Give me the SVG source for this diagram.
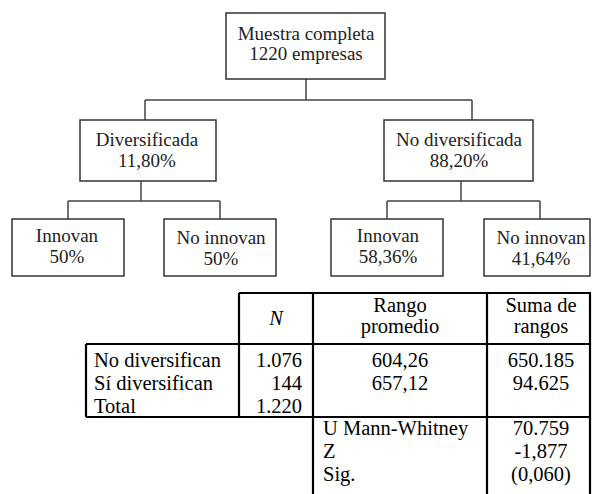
<svg xmlns="http://www.w3.org/2000/svg" width="592" height="494" viewBox="0 0 592 494">
<style>
.box{fill:#fff;stroke:#333;stroke-width:1.5}
.conn{fill:none;stroke:#444;stroke-width:1.5}
.t{font-size:19px;fill:#222;text-anchor:middle}
.tb{font-size:20.5px;fill:#000}
.tl{stroke:#000;stroke-width:2.2;fill:none}
.c{text-anchor:middle}
.r{text-anchor:end}
</style>
<rect width="592" height="494" fill="#fff"/>
<g id="connectors">
<path class="conn" d="M306 79V100M145 100H472M145 100V120M472 100V120"/>
<path class="conn" d="M141 181V201M68 201H220M68 201V219M220 201V219"/>
<path class="conn" d="M461 181V201M387 201H540M387 201V219M540 201V219"/>
</g>
<g font-family="'Liberation Serif', Tinos, 'DejaVu Serif', serif">
<g id="root">
<rect class="box" x="226" y="13" width="159" height="66"/>
<text class="t" x="306" y="40">Muestra completa</text>
<text class="t" x="306" y="60">1220 empresas</text>
</g>
<g id="div">
<rect class="box" x="80" y="120" width="136" height="61"/>
<text class="t" x="147" y="146">Diversificada</text>
<text class="t" x="147" y="167">11,80%</text>
</g>
<g id="nodiv">
<rect class="box" x="384" y="120" width="149" height="61"/>
<text class="t" x="459" y="146">No diversificada</text>
<text class="t" x="459" y="167">88,20%</text>
</g>
<g id="div-innovan">
<rect class="box" x="12" y="219" width="112" height="57"/>
<text class="t" x="67" y="242">Innovan</text>
<text class="t" x="67" y="263">50%</text>
</g>
<g id="div-noinnovan">
<rect class="box" x="164" y="219" width="112" height="57"/>
<text class="t" x="221" y="244">No innovan</text>
<text class="t" x="221" y="265">50%</text>
</g>
<g id="nodiv-innovan">
<rect class="box" x="331" y="219" width="112" height="57"/>
<text class="t" x="388" y="242">Innovan</text>
<text class="t" x="388" y="263">58,36%</text>
</g>
<g id="nodiv-noinnovan">
<rect class="box" x="484" y="219" width="106" height="57"/>
<text class="t" x="541" y="244">No innovan</text>
<text class="t" x="541" y="265">41,64%</text>
</g>
<g id="table">
<path class="tl" d="M239 293H591M86 344H591M86 417H591M239 293V417M313 293V494M487 293V494M590 293V494M86 344V417"/>
<text class="tb c" x="276" y="325" font-style="italic">N</text>
<text class="tb c" x="400" y="312">Rango</text>
<text class="tb c" x="400" y="333">promedio</text>
<text class="tb c" x="541" y="312">Suma de</text>
<text class="tb c" x="541" y="333">rangos</text>
<text class="tb" x="94" y="367">No diversifican</text>
<text class="tb" x="94" y="390">Sí diversifican</text>
<text class="tb" x="94" y="413">Total</text>
<text class="tb r" x="302" y="367">1.076</text>
<text class="tb r" x="302" y="390">144</text>
<text class="tb r" x="302" y="413">1.220</text>
<text class="tb c" x="400" y="367">604,26</text>
<text class="tb c" x="400" y="390">657,12</text>
<text class="tb c" x="541" y="367">650.185</text>
<text class="tb c" x="541" y="390">94.625</text>
<text class="tb" x="323" y="435">U Mann-Whitney</text>
<text class="tb" x="323" y="458">Z</text>
<text class="tb" x="323" y="481">Sig.</text>
<text class="tb c" x="541" y="435">70.759</text>
<text class="tb c" x="541" y="458">-1,877</text>
<text class="tb c" x="541" y="481">(0,060)</text>
</g>
</g>
</svg>
